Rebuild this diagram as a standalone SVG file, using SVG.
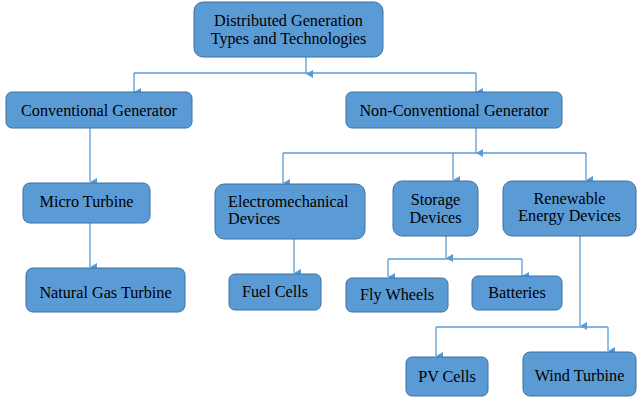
<svg xmlns="http://www.w3.org/2000/svg" width="637" height="398" viewBox="0 0 637 398">
<style>
.n rect{fill:#5B9BD5;stroke:#41719C;stroke-width:1}
.n text{font-size:16.2px;fill:#000}
.c path{fill:none;stroke:#5B9BD5;stroke-width:1.3;marker-end:url(#a)}
.c path.p{marker-end:none}
</style>
<defs>
<marker id="a" markerWidth="8" markerHeight="8" refX="4" refY="7" orient="auto" markerUnits="userSpaceOnUse" viewBox="0 0 8 8">
<path d="M0,0 L8,0 L4,7 Z" fill="#5B9BD5"/>
</marker>
</defs>
<rect width="637" height="398" fill="#fff"/>
<g class="c">
<path d="M306,57 V74"/>
<path class="p" d="M134,73 H476"/>
<path d="M134,73 V92"/>
<path d="M476,73 V92"/>
<path d="M90,128 V182"/>
<path d="M90,223 V267"/>
<path d="M476,128 V153"/>
<path class="p" d="M283,153 H586"/>
<path d="M283,153 V183"/>
<path d="M453,153 V180"/>
<path d="M586,153 V180"/>
<path d="M294,239 V273"/>
<path d="M446,236 V258"/>
<path class="p" d="M388,259 H522"/>
<path d="M388,259 V277"/>
<path d="M522,259 V276"/>
<path d="M580,236 V326"/>
<path class="p" d="M436,327 H608"/>
<path d="M436,327 V356"/>
<path d="M608,327 V351"/>
</g>
<g font-family="Liberation Serif, DejaVu Serif, serif">
<g id="root" class="n"><rect x="194" y="2" width="189" height="55" rx="9"/><text x="288.5" y="26" text-anchor="middle">Distributed Generation</text><text x="288.5" y="44" text-anchor="middle">Types and Technologies</text></g>
<g id="conv" class="n"><rect x="6" y="92" width="186" height="36" rx="6"/><text x="99" y="116" text-anchor="middle">Conventional Generator</text></g>
<g id="nonconv" class="n"><rect x="346" y="92" width="216" height="36" rx="6"/><text x="454" y="116" text-anchor="middle">Non-Conventional Generator</text></g>
<g id="micro" class="n"><rect x="23" y="183" width="127" height="40" rx="7"/><text x="86.5" y="207" text-anchor="middle">Micro Turbine</text></g>
<g id="gas" class="n"><rect x="26" y="268" width="159" height="44" rx="7"/><text x="105.5" y="298" text-anchor="middle">Natural Gas Turbine</text></g>
<g id="electro" class="n"><rect x="215" y="184" width="150" height="55" rx="9"/><text x="228" y="207">Electromechanical</text><text x="228" y="224">Devices</text></g>
<g id="storage" class="n"><rect x="393" y="181" width="85" height="55" rx="9"/><text x="435.5" y="205" text-anchor="middle">Storage</text><text x="435.5" y="223" text-anchor="middle">Devices</text></g>
<g id="renew" class="n"><rect x="503" y="181" width="133" height="55" rx="9"/><text x="569.5" y="204" text-anchor="middle">Renewable</text><text x="569.5" y="221" text-anchor="middle">Energy Devices</text></g>
<g id="fuel" class="n"><rect x="229" y="274" width="92" height="36" rx="6"/><text x="275" y="297" text-anchor="middle">Fuel Cells</text></g>
<g id="fly" class="n"><rect x="346" y="278" width="102" height="34" rx="6"/><text x="397" y="300" text-anchor="middle">Fly Wheels</text></g>
<g id="batt" class="n"><rect x="472" y="276" width="90" height="34" rx="6"/><text x="517" y="298" text-anchor="middle">Batteries</text></g>
<g id="pv" class="n"><rect x="406" y="357" width="82" height="39" rx="6"/><text x="447" y="382" text-anchor="middle">PV Cells</text></g>
<g id="wind" class="n"><rect x="523" y="352" width="113" height="44" rx="7"/><text x="579.5" y="381" text-anchor="middle">Wind Turbine</text></g>
</g>
</svg>
